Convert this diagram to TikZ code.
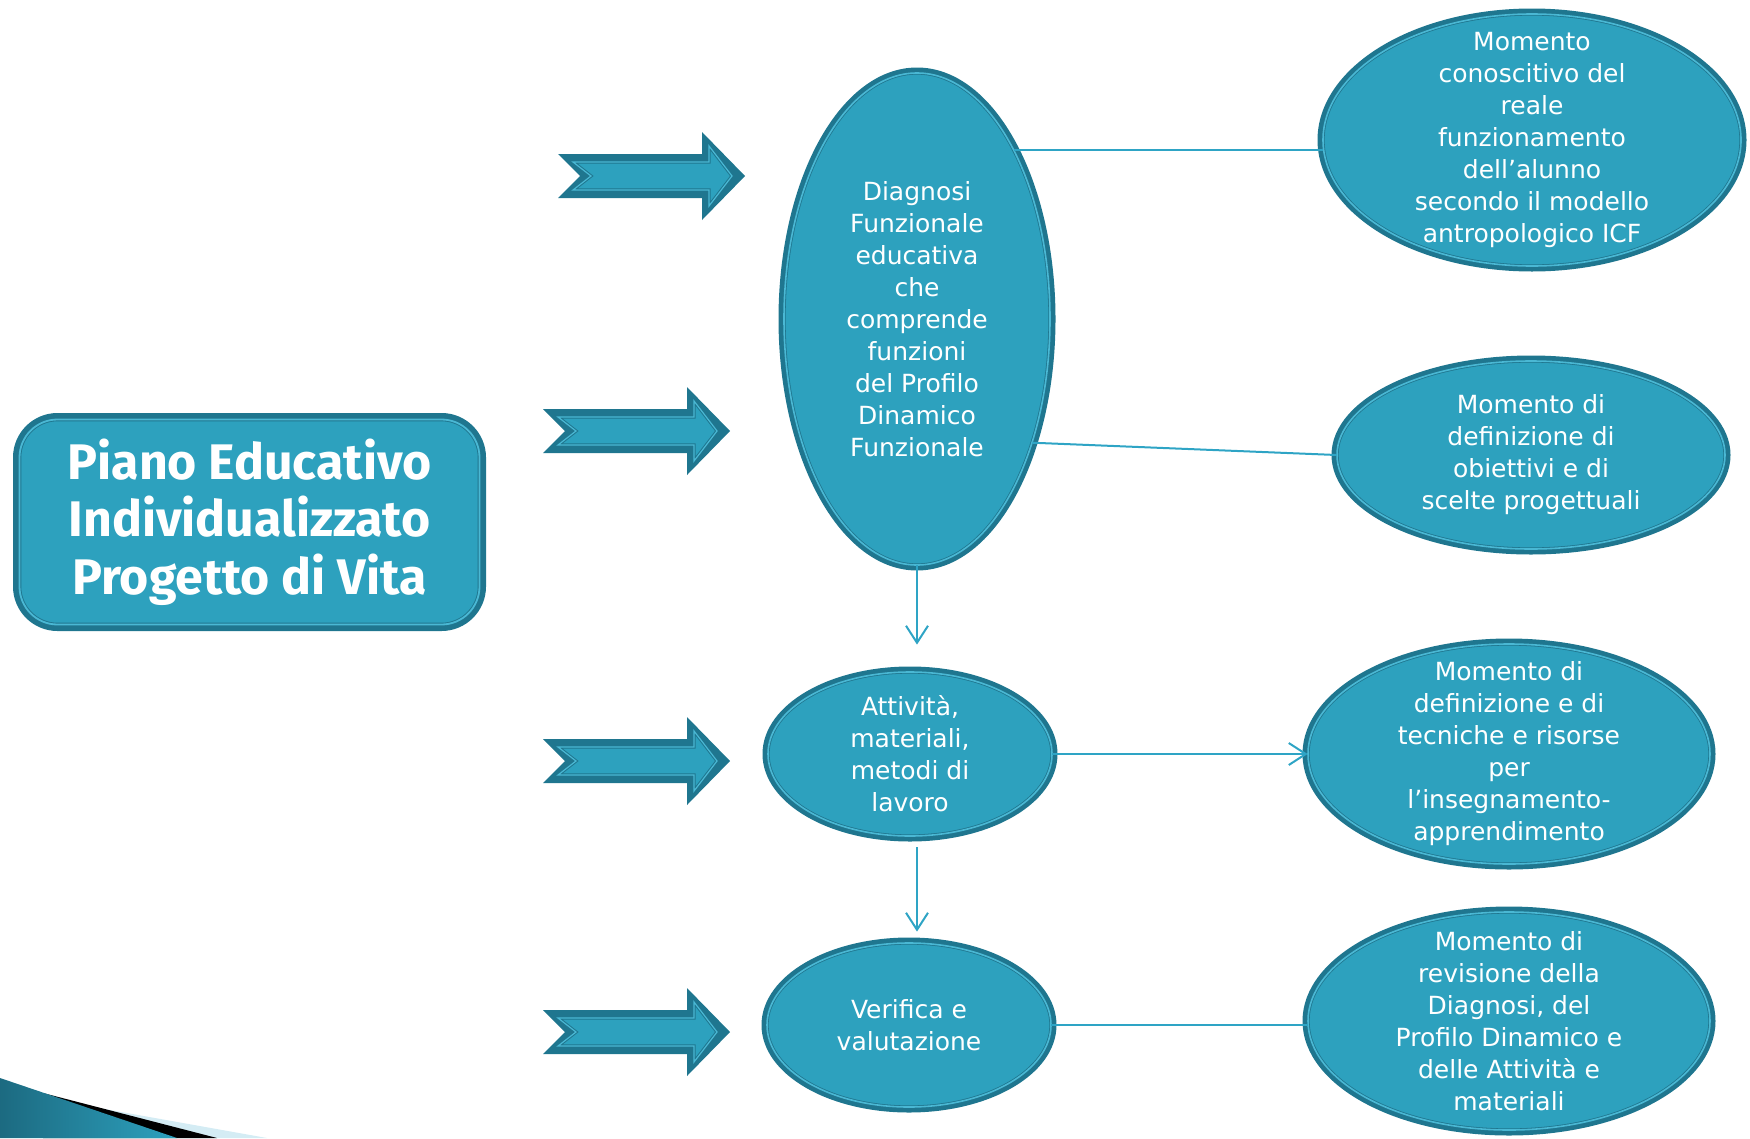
\documentclass[tikz,border=0pt]{standalone}
\usepackage{fontspec}
\setmainfont{DejaVu Sans}
\newfontfamily\titlefont{Fira Sans}
\usetikzlibrary{shapes.geometric,arrows.meta}

\definecolor{tealfill}{RGB}{45,161,190}
\definecolor{tealdark}{RGB}{31,118,143}
\definecolor{teallight}{RGB}{74,184,212}
\definecolor{linecol}{RGB}{46,164,197}
\definecolor{swooshlight}{RGB}{212,236,244}

\tikzset{
  bubble/.style={ellipse, fill=tealfill, preaction={draw=tealdark, line width=11pt},
    draw=tealdark, line width=0.8pt, double=teallight, double distance=1.6pt,
    inner sep=0pt, inner ysep=-30pt,
    text=white, align=center, font=\fontsize{25}{32}\selectfont},
  titlebox/.style={rectangle, rounded corners=38pt, fill=tealfill,
    preaction={draw=tealdark, line width=13pt},
    draw=tealdark, line width=0.9pt, double=teallight, double distance=1.8pt, inner sep=0pt,
    minimum width=460pt, minimum height=205pt, text=white, align=center,
    font=\titlefont\bfseries\fontsize{50}{57.5}\selectfont},
  conn/.style={draw=linecol, line width=2pt},
  arrowed/.style={-{Straight Barb[length=17pt,width=22pt]}}
}

\begin{document}
\begin{tikzpicture}[x=1pt,y=-1pt]
\useasboundingbox (0,0) rectangle (1750,1138);

% swoosh in the corner
\fill[swooshlight] (43,1098) -- (267,1138) -- (43,1138) -- cycle;
\fill[black] (43,1093) -- (217,1138) -- (43,1138) -- cycle;
\shade[left color=tealdark!90!black, right color=tealfill] (0,1078) -- (177,1138) -- (0,1138) -- cycle;

\node[titlebox] (pei) at (249.5,522) {Piano Educativo\\Individualizzato\\Progetto di Vita};

% block arrows
\foreach \x/\y in {558/176, 543/431, 543/761, 543/1032}{
  \begin{scope}[shift={(\x,\y)}]
    \fill[tealdark] (0,-22) -- (22,0) -- (0,22) -- (144,22) -- (144,44)
      -- (187,0) -- (144,-44) -- (144,-22) -- cycle;
    \draw[tealdark, line width=1pt, double=teallight, double distance=1.2pt, fill=tealfill]
      (15,-14) -- (33,0) -- (15,14) -- (151,14) -- (151,30)
      -- (174,0) -- (151,-30) -- (151,-14) -- cycle;
  \end{scope}
}

\node[bubble, minimum width=266pt, minimum height=492pt] (diag) at (917,319)
  {Diagnosi\\Funzionale\\educativa\\che\\comprende\\funzioni\\del Profilo\\Dinamico\\Funzionale};
\node[bubble, minimum width=284pt, minimum height=164pt] (att) at (910,754)
  {Attività,\\materiali,\\metodi di\\lavoro};
\node[bubble, minimum width=284pt, minimum height=164pt] (ver) at (909,1025)
  {Verifica e\\valutazione};

\node[bubble, minimum width=418pt, minimum height=252pt] (mom1) at (1532,140)
  {Momento\\conoscitivo del\\reale\\funzionamento\\dell’alunno\\secondo il modello\\antropologico ICF};
\node[bubble, minimum width=388pt, minimum height=188pt] (mom2) at (1531,455)
  {Momento di\\definizione di\\obiettivi e di\\scelte progettuali};
\node[bubble, minimum width=402pt, minimum height=220pt] (mom3) at (1509,754)
  {Momento di\\definizione e di\\tecniche e risorse\\per\\l’insegnamento-\\apprendimento};
\node[bubble, minimum width=402pt, minimum height=218pt] (mom4) at (1509,1021)
  {Momento di\\revisione della\\Diagnosi, del\\Profilo Dinamico e\\delle Attività e\\materiali};

\draw[conn] (diag.60) -- (diag.60 -| mom1.west);
\draw[conn] (diag.-47) -- (mom2.west);
\draw[conn, arrowed, shorten >=27pt] (diag.south) -- (diag.south |- att.north);
\draw[conn, arrowed, shorten <=11pt, shorten >=11pt] (diag.south |- att.south) -- (diag.south |- ver.north);
\draw[conn, arrowed] (att.east) -- (mom3.west);
\draw[conn] (ver.east) -- (ver.east -| mom4.west);
\end{tikzpicture}
\end{document}
